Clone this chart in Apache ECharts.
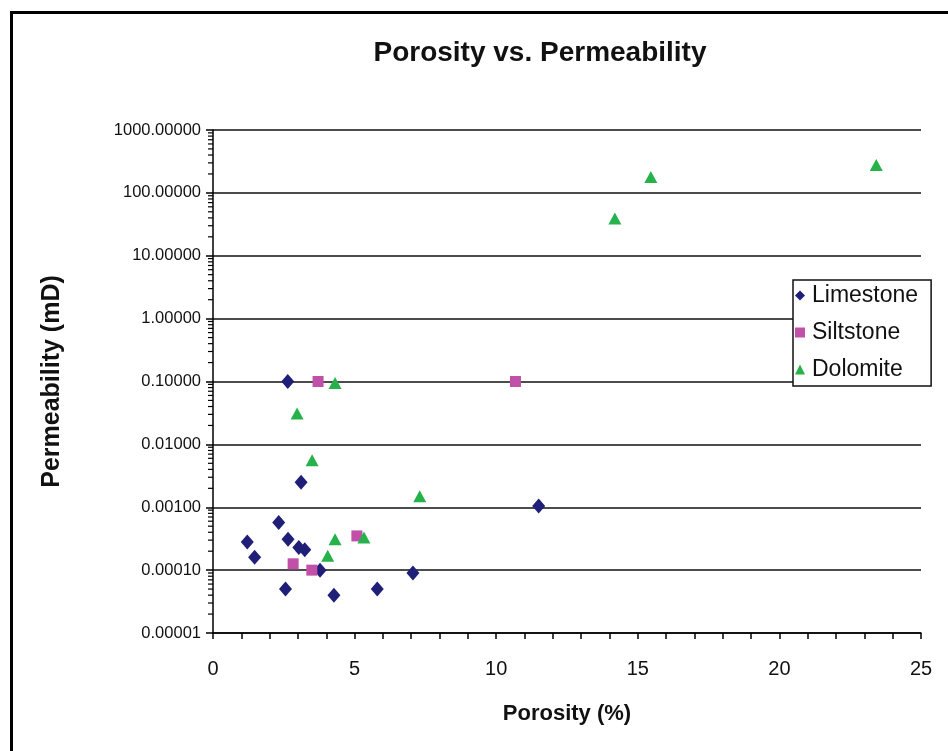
<!DOCTYPE html>
<html>
<head>
<meta charset="utf-8">
<script src="https://cdn.jsdelivr.net/npm/echarts@6/dist/echarts.min.js"></script>
<style>
  html, body { margin: 0; padding: 0; background: #fff; }
  #chart { width: 948px; height: 751px; }
</style>
</head>
<body>
<div id="chart"></div>
<script>
  // porosity (%) / permeability (mD)
  var limestoneX = [2.64, 3.11, 11.5, 2.32, 1.21, 1.47, 2.65, 3.03, 3.24, 3.78, 2.56, 4.27, 5.8, 7.06]
  var limestoneY = [0.1, 0.0025, 0.00105, 0.00057, 0.00028, 0.00016, 0.00031, 0.00023, 0.00021, 0.0001, 0.00005, 0.00004, 0.00005, 0.00009]
  var siltstoneX = [3.71, 10.68, 5.08, 2.83, 3.49]
  var siltstoneY = [0.1, 0.1, 0.00035, 0.000126, 0.0001]
  var dolomiteX = [4.31, 2.97, 3.5, 7.3, 4.31, 5.33, 4.05, 14.19, 15.46, 23.42]
  var dolomiteY = [0.095, 0.031, 0.0056, 0.0015, 0.00031, 0.00033, 0.00017, 39, 179, 277]

  function pairs(xs, ys) {
    return xs.map(function (x, i) { return [x, ys[i]] })
  }

  // log minor ticks (2..9 in each decade), drawn on the y axis
  var minorTicks = []
  for (var e = -5; e < 3; e++) {
    for (var m = 2; m <= 9; m++) minorTicks.push([0, m * Math.pow(10, e)])
  }

  var font = 'Liberation Sans, Arial, sans-serif'
  var myChart = echarts.init(document.getElementById('chart'))

  myChart.setOption({
    animation: false,
    backgroundColor: '#fff',
    textStyle: { fontFamily: font },
    graphic: [{
      type: 'rect',
      left: 9, top: 10,
      shape: { width: 980, height: 780 },
      style: { fill: 'none', stroke: '#000', lineWidth: 3 },
      silent: true
    }],
    title: {
      text: 'Porosity vs. Permeability',
      left: 535, top: 34,
      textAlign: 'center',
      textStyle: { fontFamily: font, fontSize: 28, fontWeight: 'bold', color: '#111' }
    },
    grid: { left: 213, right: 27, top: 130, bottom: 118 },
    legend: {
      orient: 'vertical',
      left: 793, top: 280,
      padding: [4, 13, 5, 2],
      itemGap: 14,
      itemWidth: 10, itemHeight: 10,
      backgroundColor: '#fff',
      borderColor: '#111', borderWidth: 1.5,
      textStyle: { fontFamily: font, fontSize: 23, color: '#111', padding: [0, 0, 0, 2] },
      data: [
        { name: 'Limestone', icon: 'diamond' },
        { name: 'Siltstone', icon: 'rect' },
        { name: 'Dolomite', icon: 'triangle' }
      ]
    },
    xAxis: {
      type: 'value',
      min: 0, max: 25, interval: 5,
      name: 'Porosity (%)',
      nameLocation: 'middle',
      nameGap: 70,
      nameTextStyle: { fontFamily: font, fontSize: 22, fontWeight: 'bold', color: '#111' },
      axisLine: { lineStyle: { color: '#000', width: 1.5 } },
      axisTick: { show: true, length: 6, lineStyle: { color: '#000', width: 1.5 } },
      minorTick: { show: true, splitNumber: 5, length: 6, lineStyle: { color: '#000', width: 1.5 } },
      axisLabel: { fontFamily: font, fontSize: 20, color: '#111', margin: 26 },
      splitLine: { show: false }
    },
    yAxis: {
      type: 'log',
      logBase: 10,
      min: 0.00001, max: 1000,
      name: 'Permeability (mD)',
      nameLocation: 'middle',
      nameGap: 148,
      nameRotate: 90,
      nameTextStyle: { fontFamily: font, fontSize: 25, fontWeight: 'bold', color: '#111' },
      axisLine: { show: true, lineStyle: { color: '#000', width: 1.5 } },
      axisTick: { show: true, length: 7, lineStyle: { color: '#000', width: 1.5 } },
      axisLabel: {
        fontFamily: font, fontSize: 16.5, color: '#111', margin: 12,
        formatter: function (v) { return v.toFixed(5) }
      },
      splitLine: { show: true, lineStyle: { color: '#111', width: 1.5 } }
    },
    series: [
      {
        name: 'ticks',
        type: 'custom',
        silent: true,
        clip: false,
        z: 5,
        data: minorTicks,
        renderItem: function (params, api) {
          var p = api.coord([api.value(0), api.value(1)])
          return {
            type: 'line',
            shape: { x1: p[0] - 5, y1: p[1], x2: p[0], y2: p[1] },
            style: { stroke: '#000', lineWidth: 1.2 }
          }
        }
      },
      {
        name: 'Limestone',
        type: 'scatter',
        symbol: 'diamond',
        symbolSize: [13, 15],
        itemStyle: { color: '#1f1f78', opacity: 1 },
        data: pairs(limestoneX, limestoneY)
      },
      {
        name: 'Siltstone',
        type: 'scatter',
        symbol: 'rect',
        symbolSize: 11,
        itemStyle: { color: '#c050a8', opacity: 1 },
        data: pairs(siltstoneX, siltstoneY)
      },
      {
        name: 'Dolomite',
        type: 'scatter',
        symbol: 'triangle',
        symbolSize: [13, 12],
        itemStyle: { color: '#26b24a', opacity: 1 },
        data: pairs(dolomiteX, dolomiteY)
      }
    ]
  })
</script>
</body>
</html>
